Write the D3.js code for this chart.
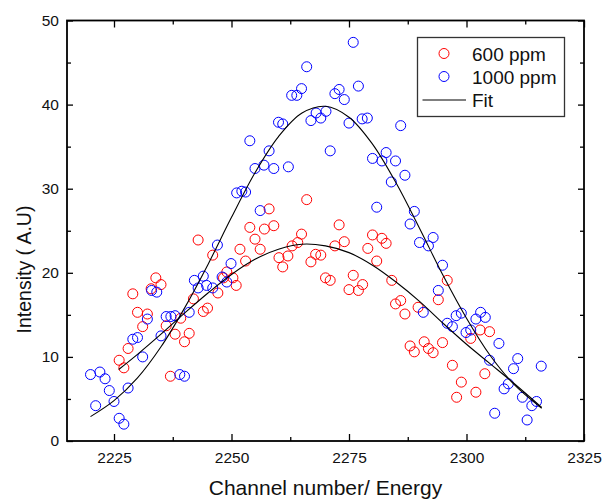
<!DOCTYPE html>
<html>
<head>
<meta charset="utf-8">
<script src="https://cdn.jsdelivr.net/npm/d3@7"></script>
<style>
  body { margin: 0; background: #fff; }
  text { font-family: Arial, "Liberation Sans", sans-serif; fill: #111; }
</style>
</head>
<body>
<div id="chart"></div>
<script>

// values: [channel, intensity]
const ppm600 = [
  [2266.0,28.7],[2258.0,27.6],[2253.9,25.4],[2257.0,25.2],[2259.0,25.6],[2272.9,25.7],[2264.9,24.6],
  [2264.1,23.6],[2262.9,23.2],[2260.1,21.8],[2262.0,22.0],[2260.9,20.7],[2267.9,22.2],[2269.0,22.1],
  [2266.9,21.3],[2272.0,23.2],[2274.0,23.7],[2280.0,24.5],[2282.0,24.1],[2282.9,23.5],[2279.0,22.9],
  [2280.9,21.4],[2270.0,19.4],[2271.0,19.1],[2275.9,19.7],[2277.9,18.6],[2275.0,18.0],[2277.0,17.9],
  [2284.1,19.1],[2284.9,16.3],[2286.0,16.7],[2286.9,15.1],[2289.7,15.9],[2288.0,11.3],[2288.9,10.6],
  [2291.0,11.8],[2291.9,11.0],[2292.9,10.5],[2294.9,11.7],[2294.0,16.8],[2295.9,19.1],[2300.9,12.2],
  [2302.9,13.2],[2304.9,13.0],[2297.0,9.0],[2303.9,8.0],[2298.9,7.0],[2302.0,5.8],[2297.9,5.2],
  [2242.9,23.9],[2246.0,22.1],[2251.8,22.8],[2255.0,24.0],[2256.1,22.8],[2253.0,21.4],[2249.0,20.1],
  [2248.3,19.4],[2250.3,19.4],[2251.0,18.5],[2247.1,17.6],[2233.9,19.4],[2235.0,18.6],[2232.9,18.1],
  [2229.0,17.5],[2230.0,15.3],[2232.1,15.1],[2231.1,13.6],[2236.1,13.7],[2239.2,14.6],[2241.9,16.9],
  [2244.0,15.4],[2244.9,15.8],[2238.0,12.7],[2241.0,12.8],[2240.0,11.8],[2228.0,11.0],[2226.1,9.6],
  [2227.1,8.7],[2237.0,7.7]
]

const ppm1000 = [
  [2253.9,35.7],[2255.0,32.4],[2251.1,29.5],[2252.2,29.7],[2253.0,29.6],[2256.1,27.4],[2275.9,47.4],
  [2266.0,44.5],[2277.0,42.2],[2264.9,41.9],[2262.8,41.1],[2263.9,41.1],[2272.0,41.3],[2272.9,41.8],
  [2274.0,40.6],[2260.0,37.9],[2260.9,37.7],[2266.9,38.1],[2268.0,39.0],[2269.0,38.4],[2270.1,39.2],
  [2275.0,37.8],[2277.8,38.3],[2278.9,38.4],[2286.0,37.5],[2258.0,34.5],[2271.0,34.5],[2256.9,32.8],
  [2259.0,32.4],[2262.1,32.6],[2280.0,33.6],[2282.0,33.3],[2282.9,34.3],[2284.9,33.3],[2286.9,31.6],
  [2284.0,30.8],[2280.9,27.8],[2288.9,27.3],[2288.0,25.8],[2247.0,23.3],[2249.9,21.1],[2244.0,19.6],
  [2242.1,19.1],[2242.9,18.2],[2244.7,18.5],[2246.0,18.2],[2248.0,19.5],[2249.0,18.9],[2233.0,17.9],
  [2234.1,17.7],[2232.1,14.5],[2241.0,15.3],[2236.1,14.8],[2237.1,14.8],[2238.0,14.9],[2235.0,12.5],
  [2229.0,12.1],[2230.0,12.3],[2231.1,10.0],[2220.0,7.9],[2222.0,8.2],[2223.1,7.4],[2239.0,7.9],
  [2240.0,7.7],[2228.0,6.3],[2224.0,6.0],[2221.1,4.2],[2225.0,4.7],[2226.1,2.7],[2227.1,2.0],
  [2290.0,23.6],[2291.9,23.2],[2292.9,24.2],[2294.9,20.9],[2294.0,17.9],[2290.8,15.3],[2295.9,14.0],
  [2297.0,13.6],[2297.8,14.9],[2298.9,15.2],[2299.9,12.9],[2300.9,13.2],[2302.0,14.5],[2303.0,15.3],
  [2304.0,14.7],[2306.9,11.6],[2304.9,9.6],[2310.9,9.8],[2310.0,8.6],[2315.9,8.9],[2308.9,6.8],
  [2308.0,6.2],[2311.9,5.2],[2313.9,4.2],[2314.9,4.7],[2306.0,3.3],[2312.9,2.5]
]

// fit lines, read every 5 channels
const fit600 = [
  [2226,8.5],[2230,10.3],[2235,12.7],[2240,15.2],[2245,17.6],[2250,19.8],[2255,21.6],[2260,22.8],
  [2265,23.4],[2270,23.2],[2275,22.4],[2280,20.9],[2285,18.9],[2290,16.6],[2295,14.0],[2300,11.5],
  [2305,9.2],[2310,6.9],[2316,4.0]
]

const fit1000 = [
  [2220,2.9],[2225,4.8],[2230,7.5],[2235,11.2],[2240,15.8],[2245,21.0],[2250,26.6],[2255,31.9],
  [2260,36.2],[2265,39.0],[2270,39.8],[2275,38.5],[2280,35.3],[2285,30.7],[2290,25.3],[2295,19.7],
  [2300,14.6],[2305,10.2],[2310,6.8],[2316,3.9]
]

const xTicks = [2225, 2250, 2275, 2300, 2325]
const xMinor = [2237.5, 2262.5, 2287.5, 2312.5]
const yTicks = [0, 10, 20, 30, 40, 50]
const yMinor = [5, 15, 25, 35, 45]

const seriesNames = ["600 ppm", "1000 ppm", "Fit"]
const red = "#ff0000", blue = "#0000ff"

let margin = {top: 20.5, right: 19, bottom: 59, left: 67},
    width = 603 - margin.left - margin.right,
    height = 500 - margin.top - margin.bottom

let svg = d3.select("#chart").append("svg")
    .attr("width", 603)
    .attr("height", 500)

let g = svg.append("g")
    .attr("transform", "translate(" + margin.left + "," + margin.top + ")")

let x = d3.scaleLinear().domain([2215, 2325]).range([0, width])
let y = d3.scaleLinear().domain([0, 50]).range([height, 0])

// axes, ticks pointing inward
g.append("g")
    .attr("transform", "translate(0," + height + ")")
    .call(d3.axisBottom(x).tickValues(xTicks).tickSize(-7).tickPadding(11).tickFormat(d3.format("d")))
g.append("g")
    .attr("transform", "translate(0," + height + ")")
    .call(d3.axisBottom(x).tickValues(xMinor).tickSize(-4).tickFormat(""))
g.append("g")
    .call(d3.axisTop(x).tickValues(xTicks).tickSize(-7).tickFormat(""))
g.append("g")
    .call(d3.axisTop(x).tickValues(xMinor).tickSize(-4).tickFormat(""))

g.append("g")
    .call(d3.axisLeft(y).tickValues(yTicks).tickSize(-6).tickPadding(8))
g.append("g")
    .call(d3.axisLeft(y).tickValues(yMinor).tickSize(-4).tickFormat(""))
g.append("g")
    .attr("transform", "translate(" + width + ",0)")
    .call(d3.axisRight(y).tickValues(yTicks).tickSize(-6).tickFormat(""))
g.append("g")
    .attr("transform", "translate(" + width + ",0)")
    .call(d3.axisRight(y).tickValues(yMinor).tickSize(-4).tickFormat(""))

g.selectAll(".domain").remove()
g.selectAll(".tick line").attr("stroke", "#000").attr("stroke-width", 1.3)
g.selectAll(".tick text")
    .attr("fill", "#111")
    .style("font-size", "15.5px")

// frame
g.append("rect")
    .attr("width", width)
    .attr("height", height)
    .attr("fill", "none")
    .attr("stroke", "#000")
    .attr("stroke-width", 1.8)

// points
g.selectAll(".p600").data(ppm600)
    .enter().append("circle")
    .attr("class", "p600")
    .attr("cx", d => x(d[0]))
    .attr("cy", d => y(d[1]))
    .attr("r", 5)
    .attr("fill", "none")
    .attr("stroke", red)
    .attr("stroke-width", 1)

g.selectAll(".p1000").data(ppm1000)
    .enter().append("circle")
    .attr("class", "p1000")
    .attr("cx", d => x(d[0]))
    .attr("cy", d => y(d[1]))
    .attr("r", 5)
    .attr("fill", "none")
    .attr("stroke", blue)
    .attr("stroke-width", 1)

// fit curves
let line = d3.line()
    .x(d => x(d[0]))
    .y(d => y(d[1]))
    .curve(d3.curveCatmullRom)

g.append("path").datum(fit600)
    .attr("d", line)
    .attr("fill", "none")
    .attr("stroke", "#000")
    .attr("stroke-width", 1.1)

g.append("path").datum(fit1000)
    .attr("d", line)
    .attr("fill", "none")
    .attr("stroke", "#000")
    .attr("stroke-width", 1.1)

// legend
let legend = svg.append("g").attr("transform", "translate(417.5,37.5)")
legend.append("rect")
    .attr("width", 147)
    .attr("height", 79)
    .attr("fill", "#fff")
    .attr("stroke", "#333")
    .attr("stroke-width", 1.3)

legend.append("circle").attr("cx", 26.5).attr("cy", 16).attr("r", 5)
    .attr("fill", "none").attr("stroke", red)
legend.append("circle").attr("cx", 26.5).attr("cy", 39).attr("r", 5)
    .attr("fill", "none").attr("stroke", blue)
legend.append("line").attr("x1", 5).attr("x2", 48.5).attr("y1", 62.5).attr("y2", 62.5)
    .attr("stroke", "#555").attr("stroke-width", 1.5)

legend.selectAll(".ltext").data(seriesNames)
    .enter().append("text")
    .attr("class", "ltext")
    .attr("x", 54.5)
    .attr("y", (d, i) => 23 + i * 23)
    .style("font-size", "19px")
    .text(d => d)

// axis titles
svg.append("text")
    .attr("x", margin.left + width / 2)
    .attr("y", 495)
    .attr("text-anchor", "middle")
    .style("font-size", "21px")
    .text("Channel number/ Energy")

svg.append("text")
    .attr("transform", "translate(31,269.5) rotate(-90)")
    .attr("text-anchor", "middle")
    .style("font-size", "19.5px")
    .text("Intensity ( A.U)")

</script>
</body>
</html>
